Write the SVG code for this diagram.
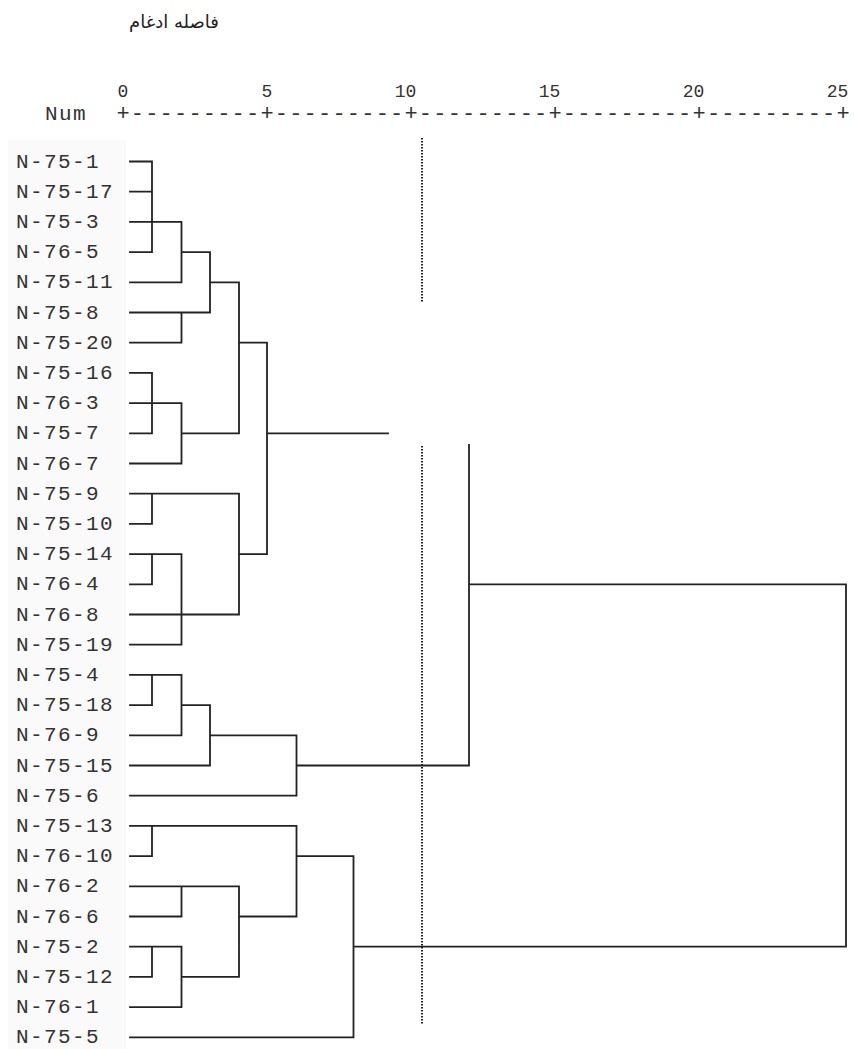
<svg xmlns="http://www.w3.org/2000/svg" width="854" height="1049" viewBox="0 0 854 1049">
<style>
.lbl{font-family:"Liberation Mono","DejaVu Sans Mono",monospace;font-size:21px;letter-spacing:1.4px;fill:#333}
.num{font-family:"Liberation Mono","DejaVu Sans Mono",monospace;font-size:18px;fill:#333;text-anchor:end}
.axis{font-family:"Liberation Mono","DejaVu Sans Mono",monospace;font-size:22px;letter-spacing:1.2px;fill:#333}
.ln{fill:none;stroke:#222;stroke-width:1.8;stroke-linecap:square}
.dot{fill:none;stroke:#222;stroke-width:2;stroke-dasharray:1.5 1.5}
</style>
<rect x="0" y="0" width="854" height="1049" fill="#ffffff"/>
<rect x="8" y="140" width="118" height="909" fill="#fafafa"/>
<g id="title"><text x="174" y="28" font-family="'DejaVu Sans','Noto Sans',sans-serif" font-size="18" fill="#222" text-anchor="middle" direction="rtl">فاصله ادغام</text></g>
<g id="axis">
<text class="num" x="128.4" y="97">0</text>
<text class="num" x="272.4" y="97">5</text>
<text class="num" x="416.4" y="97">10</text>
<text class="num" x="560.4" y="97">15</text>
<text class="num" x="704.4" y="97">20</text>
<text class="num" x="848.4" y="97">25</text>
<text class="lbl" x="45" y="120" letter-spacing="0">Num</text>
<text class="axis" x="116.4" y="120">+---------+---------+---------+---------+---------+</text>
</g>
<g id="labels">
<g id="n-N-75-1"><text class="lbl" x="16" y="167.5">N-75-1</text></g>
<g id="n-N-75-17"><text class="lbl" x="16" y="197.7">N-75-17</text></g>
<g id="n-N-75-3"><text class="lbl" x="16" y="227.9">N-75-3</text></g>
<g id="n-N-76-5"><text class="lbl" x="16" y="258.1">N-76-5</text></g>
<g id="n-N-75-11"><text class="lbl" x="16" y="288.3">N-75-11</text></g>
<g id="n-N-75-8"><text class="lbl" x="16" y="318.5">N-75-8</text></g>
<g id="n-N-75-20"><text class="lbl" x="16" y="348.7">N-75-20</text></g>
<g id="n-N-75-16"><text class="lbl" x="16" y="378.9">N-75-16</text></g>
<g id="n-N-76-3"><text class="lbl" x="16" y="409.1">N-76-3</text></g>
<g id="n-N-75-7"><text class="lbl" x="16" y="439.3">N-75-7</text></g>
<g id="n-N-76-7"><text class="lbl" x="16" y="469.5">N-76-7</text></g>
<g id="n-N-75-9"><text class="lbl" x="16" y="499.7">N-75-9</text></g>
<g id="n-N-75-10"><text class="lbl" x="16" y="529.9">N-75-10</text></g>
<g id="n-N-75-14"><text class="lbl" x="16" y="560.1">N-75-14</text></g>
<g id="n-N-76-4"><text class="lbl" x="16" y="590.3">N-76-4</text></g>
<g id="n-N-76-8"><text class="lbl" x="16" y="620.5">N-76-8</text></g>
<g id="n-N-75-19"><text class="lbl" x="16" y="650.7">N-75-19</text></g>
<g id="n-N-75-4"><text class="lbl" x="16" y="680.9">N-75-4</text></g>
<g id="n-N-75-18"><text class="lbl" x="16" y="711.1">N-75-18</text></g>
<g id="n-N-76-9"><text class="lbl" x="16" y="741.3">N-76-9</text></g>
<g id="n-N-75-15"><text class="lbl" x="16" y="771.5">N-75-15</text></g>
<g id="n-N-75-6"><text class="lbl" x="16" y="801.7">N-75-6</text></g>
<g id="n-N-75-13"><text class="lbl" x="16" y="831.9">N-75-13</text></g>
<g id="n-N-76-10"><text class="lbl" x="16" y="862.1">N-76-10</text></g>
<g id="n-N-76-2"><text class="lbl" x="16" y="892.3">N-76-2</text></g>
<g id="n-N-76-6"><text class="lbl" x="16" y="922.5">N-76-6</text></g>
<g id="n-N-75-2"><text class="lbl" x="16" y="952.7">N-75-2</text></g>
<g id="n-N-75-12"><text class="lbl" x="16" y="982.9">N-75-12</text></g>
<g id="n-N-76-1"><text class="lbl" x="16" y="1013.1">N-76-1</text></g>
<g id="n-N-75-5"><text class="lbl" x="16" y="1043.3">N-75-5</text></g>
</g>
<g id="connectors">
<path class="dot" d="M422 138V302M422 446V1025"/>
<path class="ln" d="
M130 161.5H152M130 191.7H152M130 221.9H181.5M130 252.1H152M152 161.5V252.1
M181.5 221.9V282.3M130 282.3H181.5M181.5 252.1H210M210 252.1V312.5
M130 312.5H210M130 342.7H181.5M181.5 312.5V342.7
M210 282.3H239M239 282.3V433.3
M130 372.9H152M130 403.1H181.5M130 433.3H152M152 372.9V433.3
M181.5 403.1V463.5M130 463.5H181.5M181.5 433.3H239
M239 342.7H267M267 342.7V554.1M267 433.3H388
M130 493.7H239M130 523.9H152M152 493.7V523.9M239 493.7V614.5
M130 554.1H181.5M130 584.3H152M152 554.1V584.3M181.5 554.1V644.7M130 614.5H239M130 644.7H181.5
M239 554.1H267
M130 674.9H181.5M130 705.1H152M152 674.9V705.1M181.5 674.9V735.3M181.5 705.1H210
M130 735.3H181.5M210 735.3H296.5M210 705.1V765.5M130 765.5H210
M296.5 735.3V795.7M130 795.7H296.5M296.5 765.5H469
M130 825.9H296.5M130 856.1H152M152 825.9V856.1M296.5 825.9V916.5M296.5 856.1H353.5
M130 886.3H239M130 916.5H181.5M181.5 886.3V916.5M239 886.3V976.9M239 916.5H296.5
M130 946.7H181.5M130 976.9H152M152 946.7V976.9M181.5 946.7V1007.1M181.5 976.9H239M130 1007.1H181.5
M130 1037.3H353.5M353.5 856.1V1037.3M353.5 946.7H846
M469 445V765.5M469 584.3H846M846 584.3V946.7"/>
</g>
</svg>
